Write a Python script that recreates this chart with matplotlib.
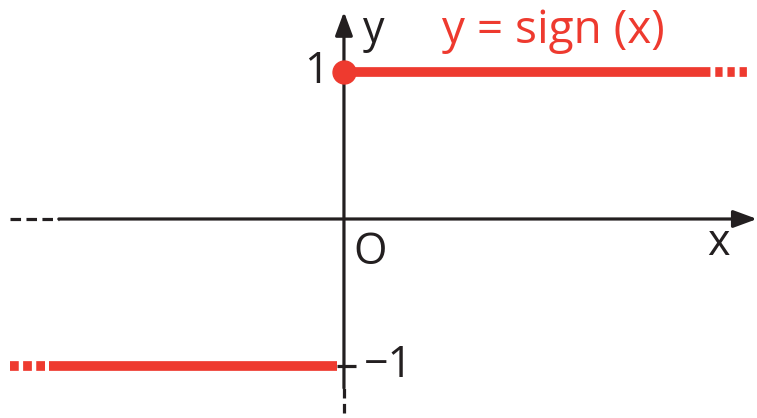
import numpy as np
import matplotlib
matplotlib.use("Agg")
import matplotlib.pyplot as plt

# sign(x) pieces (data units, 1 unit on both axes)
x_neg = [-2.27, -0.05]       # y = -1 branch, left end runs off as dots
x_pos = [0.0, 2.74]          # y = 1 branch, right end runs off as dots
y_neg = -1
y_pos = 1
fade = 0.26                  # length of the dotted tail

x_axis = [-2.27, 2.81]
y_axis = [-1.32, 1.41]

title = "y = sign (x)"
labels = {"y": "y", "x": "x", "origin": "O", "one": "1", "minus_one": "\u22121"}

RED = "#ee3a2f"
INK = "#231f20"
FONT = ["Open Sans", "DejaVu Sans"]

fig = plt.figure(figsize=(7.57, 4.18), dpi=100)
ax = fig.add_axes([0, 0, 1, 1])
ax.set_xlim(-2.34, 2.81)
ax.set_ylim(-1.354, 1.49)
ax.axis("off")

lw_ax = 2.3
arrow = "-|>,head_length=0.65,head_width=0.24"
# x axis: dashed tail on the left, arrow on the right
ax.plot([x_axis[0], x_axis[0] + 0.33], [0, 0], color=INK, lw=lw_ax,
        linestyle=(0, (3.3, 1.7)), dash_capstyle="butt")
ax.annotate("", xy=(x_axis[1], 0), xytext=(x_axis[0] + 0.33, 0),
            arrowprops=dict(arrowstyle=arrow, color=INK, lw=lw_ax,
                            mutation_scale=22, shrinkA=0, shrinkB=0))
# y axis: dashed tail at the bottom, arrow on top
ax.plot([0, 0], [y_axis[0], y_axis[0] + 0.17], color=INK, lw=lw_ax,
        linestyle=(0, (3.0, 1.7)), dash_capstyle="butt")
ax.annotate("", xy=(0, y_axis[1]), xytext=(0, y_axis[0] + 0.17),
            arrowprops=dict(arrowstyle=arrow, color=INK, lw=lw_ax,
                            mutation_scale=22, shrinkA=0, shrinkB=0))
# tick at -1
ax.plot([-0.05, 0.08], [y_neg, y_neg], color=INK, lw=lw_ax, solid_capstyle="butt")

# y = 1 branch
ax.plot([x_pos[0], x_pos[1] - fade], [y_pos, y_pos], color=RED, lw=7,
        solid_capstyle="butt", zorder=3)
ax.plot([x_pos[1] - fade, x_pos[1]], [y_pos, y_pos], color=RED, lw=7,
        linestyle=(0.5, (0.75, 0.5)), dash_capstyle="butt", zorder=3)
ax.plot([x_pos[0]], [y_pos], "o", color=RED, ms=16.5, zorder=4)

# y = -1 branch
ax.plot([x_neg[0], x_neg[0] + fade], [y_neg, y_neg], color=RED, lw=7,
        linestyle=(0, (0.9, 0.45)), dash_capstyle="butt", zorder=3)
ax.plot([x_neg[0] + fade, x_neg[1]], [y_neg, y_neg], color=RED, lw=7,
        solid_capstyle="butt", zorder=3)

fs = 31
ax.text(0.67, 1.28, title, color=RED, fontsize=fs + 2, family=FONT,
        ha="left", va="center")
ax.text(0.2, 1.28, labels["y"], color=INK, fontsize=fs, family=FONT,
        ha="center", va="center")
ax.text(2.55, -0.17, labels["x"], color=INK, fontsize=fs, family=FONT,
        ha="center", va="center")
ax.text(0.18, -0.23, labels["origin"], color=INK, fontsize=fs, family=FONT,
        ha="center", va="center")
ax.text(-0.19, 1.0, labels["one"], color=INK, fontsize=fs, family=FONT,
        ha="center", va="center")
ax.text(0.3, -1.0, labels["minus_one"], color=INK, fontsize=fs, family=FONT,
        ha="center", va="center")

fig.savefig("out.png", dpi=100)
